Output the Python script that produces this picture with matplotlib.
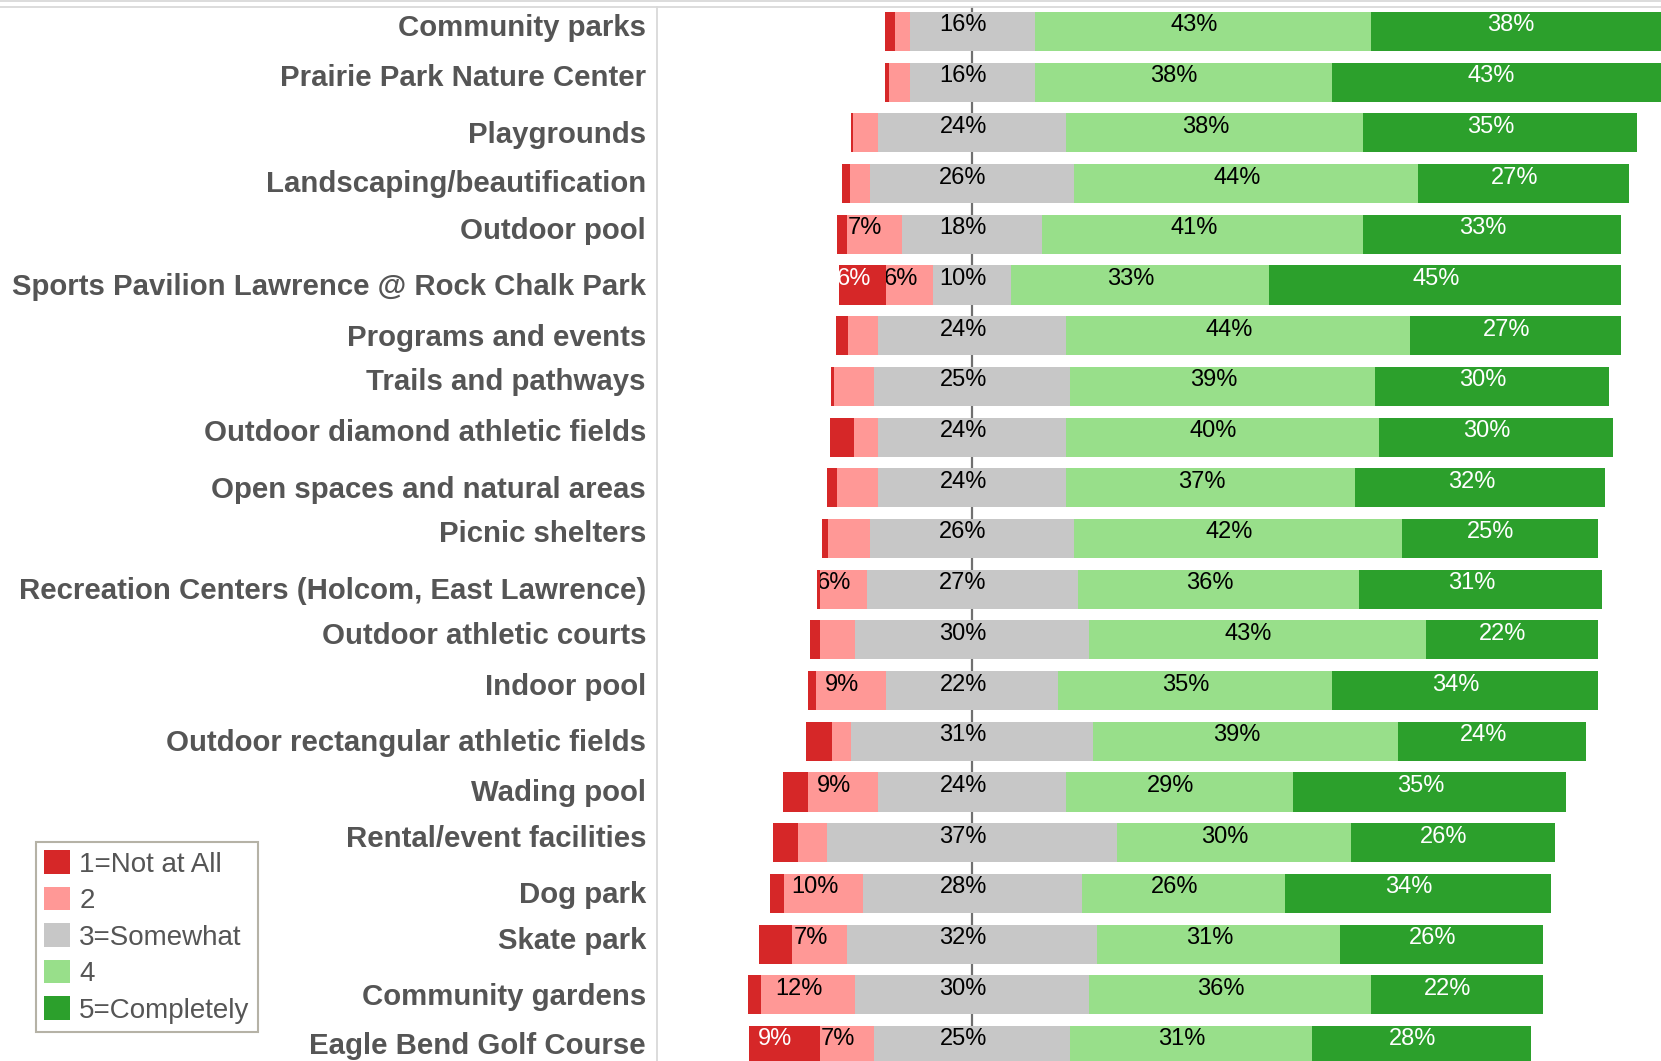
import matplotlib
matplotlib.use("Agg")
import matplotlib.pyplot as plt
from matplotlib.patches import Patch
from matplotlib.lines import Line2D

# Survey: how well each facility meets household needs (percent of responses)
categories = [
    "Community parks",
    "Prairie Park Nature Center",
    "Playgrounds",
    "Landscaping/beautification",
    "Outdoor pool",
    "Sports Pavilion Lawrence @ Rock Chalk Park",
    "Programs and events",
    "Trails and pathways",
    "Outdoor diamond athletic fields",
    "Open spaces and natural areas",
    "Picnic shelters",
    "Recreation Centers (Holcom, East Lawrence)",
    "Outdoor athletic courts",
    "Indoor pool",
    "Outdoor rectangular athletic fields",
    "Wading pool",
    "Rental/event facilities",
    "Dog park",
    "Skate park",
    "Community gardens",
    "Eagle Bend Golf Course",
]
not_at_all = [1.3, 0.5, 0.3, 1.0, 1.3, 6, 1.5, 0.3, 3.1, 1.3, 0.8, 0.3, 1.3, 1.0, 3.3, 3.2, 3.2, 1.9, 4.2, 1.6, 9]
rating_2 = [1.8, 2.6, 3.2, 2.6, 7, 6, 3.9, 5.2, 3.1, 5.3, 5.4, 6, 4.4, 9, 2.4, 9, 3.8, 10, 7, 12, 7]
somewhat = [16, 16, 24, 26, 18, 10, 24, 25, 24, 24, 26, 27, 30, 22, 31, 24, 37, 28, 32, 30, 25]
rating_4 = [43, 38, 38, 44, 41, 33, 44, 39, 40, 37, 42, 36, 43, 35, 39, 29, 30, 26, 31, 36, 31]
completely = [38, 43, 35, 27, 33, 45, 27, 30, 30, 32, 25, 31, 22, 34, 24, 35, 26, 34, 26, 22, 28]
legend_labels = ["1=Not at All", "2", "3=Somewhat", "4", "5=Completely"]

series = [not_at_all, rating_2, somewhat, rating_4, completely]
colors = ["#d62728", "#ff9896", "#c7c7c7", "#98df8a", "#2ca02c"]
text_colors = ["white", "black", "black", "black", "white"]

# vertical nudge (pixels) of the row headers
header_nudge = [3, 4, -2, -0.5, 3.5, -2, -2, 4, 4, -2, 4, -2, 3.5, 3.5, -2, -1, 3.7, -2, 3.5, -2, -1]

plt.rcParams["font.family"] = ["Liberation Sans", "DejaVu Sans"]

W, H = 1661, 1061
fig = plt.figure(figsize=(W / 100, H / 100), dpi=100)
panel_x = 657
ax = fig.add_axes([panel_x / W, 0, 1 - panel_x / W, (H - 6.5) / H])
n = len(categories)
ax.set_xlim(-40.3, 88.1)
ax.set_ylim(n - 1 + 0.306, -0.493)
ax.axis("off")

# centre line through the middle of the neutral segment
ax.axvline(0, color="#707070", lw=1.6, zorder=0)

# diverging stacks: neutral category centred on zero
left = [-(a + b + c / 2) for a, b, c in zip(not_at_all, rating_2, somewhat)]
rows = list(range(n))
for s, vals in enumerate(series):
    bars = ax.barh(rows, vals, left=left, height=0.77, color=colors[s], zorder=2)
    for i, (rect, v) in enumerate(zip(bars, vals)):
        if s >= 2 or round(v) >= 6:
            t = ax.annotate(f"{round(v)}%", xy=(left[i] + v / 2, i),
                            xytext=(-9, 6), textcoords="offset pixels",
                            ha="center", va="center", fontsize=17,
                            color=text_colors[s], zorder=3)
            t.set_clip_path(rect)
    left = [l + v for l, v in zip(left, vals)]

# row headers
for i, cat in enumerate(categories):
    ax.annotate(cat, xy=(0, i), xycoords=("axes fraction", "data"),
                xytext=(-11, header_nudge[i]), textcoords="offset pixels",
                ha="right", va="center", fontsize=21.2, fontweight="bold",
                color="#555555", annotation_clip=False)

# frame lines of the view
line_kw = dict(transform=fig.transFigure, color="#d9d9d9", lw=1.3)
fig.add_artist(Line2D([0, 1], [1 - 0.7 / H] * 2, **line_kw))
fig.add_artist(Line2D([0, 1], [1 - 6.5 / H] * 2, **line_kw))
fig.add_artist(Line2D([panel_x / W] * 2, [0, 1 - 6.5 / H], **line_kw))

handles = [Patch(facecolor=c, edgecolor="none") for c in colors]
leg = fig.legend(handles, legend_labels, loc="lower left",
                 bbox_to_anchor=(36 / W, (H - 1032) / H), borderaxespad=0,
                 fontsize=20, handlelength=0.93, handleheight=0.93,
                 handletextpad=0.33, labelspacing=0.33, borderpad=0.3,
                 fancybox=False, edgecolor="#b5b2a6", labelcolor="#555555",
                 framealpha=1)
leg.get_frame().set_linewidth(1.5)

fig.savefig("out.png", dpi=100)
